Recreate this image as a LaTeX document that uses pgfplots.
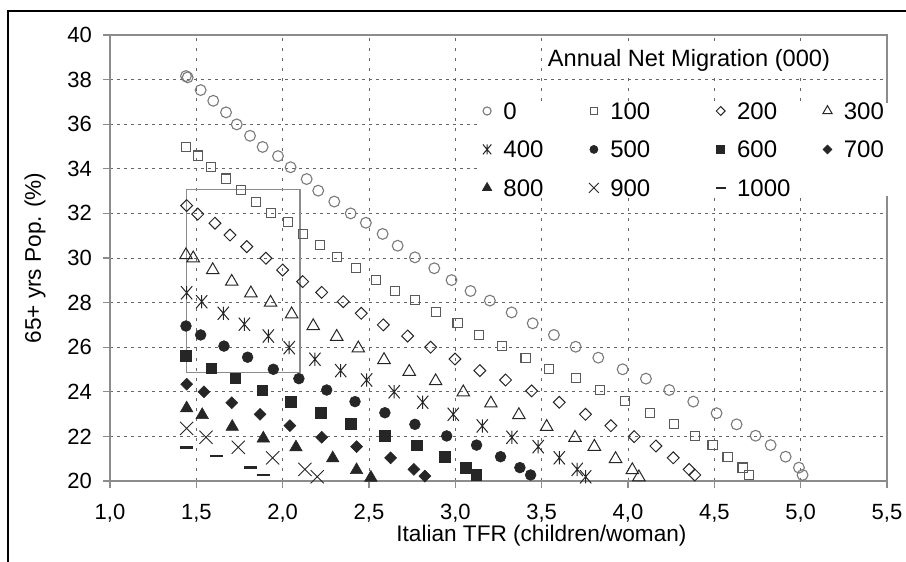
\documentclass[border=0pt]{standalone}
\usepackage{fontspec}
\setmainfont{Liberation Sans}
\usepackage{pgfplots}
\pgfplotsset{compat=1.18}

\pgfdeclareplotmark{xbar}{%
  \pgfpathmoveto{\pgfqpoint{-0.85\pgfplotmarksize}{-\pgfplotmarksize}}%
  \pgfpathlineto{\pgfqpoint{0.85\pgfplotmarksize}{\pgfplotmarksize}}%
  \pgfpathmoveto{\pgfqpoint{-0.85\pgfplotmarksize}{\pgfplotmarksize}}%
  \pgfpathlineto{\pgfqpoint{0.85\pgfplotmarksize}{-\pgfplotmarksize}}%
  \pgfpathmoveto{\pgfqpoint{0pt}{-\pgfplotmarksize}}%
  \pgfpathlineto{\pgfqpoint{0pt}{\pgfplotmarksize}}%
  \pgfusepathqstroke}
\pgfdeclareplotmark{bigx}{%
  \pgfpathmoveto{\pgfqpoint{-\pgfplotmarksize}{-\pgfplotmarksize}}%
  \pgfpathlineto{\pgfqpoint{\pgfplotmarksize}{\pgfplotmarksize}}%
  \pgfpathmoveto{\pgfqpoint{-\pgfplotmarksize}{\pgfplotmarksize}}%
  \pgfpathlineto{\pgfqpoint{\pgfplotmarksize}{-\pgfplotmarksize}}%
  \pgfusepathqstroke}
\pgfdeclareplotmark{hdash}{%
  \pgfpathmoveto{\pgfqpoint{-\pgfplotmarksize}{0pt}}%
  \pgfpathlineto{\pgfqpoint{\pgfplotmarksize}{0pt}}%
  \pgfusepathqstroke}

\definecolor{gridc}{HTML}{666666}
\definecolor{axc}{HTML}{8C8C8C}
\definecolor{opc}{HTML}{7A7A7A}
\definecolor{sqc}{HTML}{5A5A5A}
\definecolor{dkc}{HTML}{262626}
\newcommand{\legtxt}[1]{\makebox[41pt][l]{#1}}
\newcommand{\legtxtb}[1]{\makebox[51pt][l]{#1}}

\begin{document}
\begin{tikzpicture}
\useasboundingbox (-55pt,-40.5pt) rectangle (398pt,240.5pt);
\draw[line width=0.7pt, black] (-51pt,-45pt) -- (-51pt,235pt) -- (402pt,235pt);
\begin{axis}[
  at={(0pt,0pt)}, anchor=south west,
  scale only axis, width=388.5pt, height=223pt,
  xmin=1, xmax=5.5, ymin=20, ymax=40,
  xtick={1,1.5,...,5.5}, ytick={20,22,...,40},
  clip=false,
  grid=major,
  x grid style={gridc, line width=0.45pt, dash pattern=on 1.5pt off 3.5pt},
  y grid style={gridc, line width=0.45pt, dash pattern=on 1.5pt off 2pt},
  axis line style={axc, line width=0.6pt},
  tick style={axc, line width=0.6pt},
  tick align=outside, major tick length=3.5pt,
  tick pos=left,
  /pgf/number format/assume math mode=true,
  xticklabel style={/pgf/number format/fixed, /pgf/number format/fixed zerofill,
    /pgf/number format/precision=1, /pgf/number format/use comma, yshift=-4.5pt},
  tick label style={font=\fontsize{11}{12}\selectfont},
  yticklabel style={xshift=-2pt},
  xlabel={Italian TFR (children/woman)},
  ylabel={65+ yrs Pop. (\%)},
  label style={font=\fontsize{11.3}{13}\selectfont},
  xlabel style={at={(axis description cs:0.5553,-0.1230)}, anchor=center},
  ylabel style={at={(axis description cs:-0.0965,0.5)}, anchor=center},
  legend columns=4,
  legend style={at={(axis cs:3.133,36.99)}, anchor=north west, draw=none, fill=white,
    inner sep=0pt, font=\fontsize{12}{13}\selectfont,
    nodes={inner ysep=0pt, inner xsep=0pt, text height=8.5pt, text depth=0pt},
    /tikz/column sep=0pt,
    row sep=10.7pt},
  legend cell align=left,
  legend image code/.code={\path (0pt,0pt) (16pt,0pt); \draw[#1] plot coordinates {(5.333pt,0pt)};},
  legend image post style={scale=0.75},
]
\addplot[axc, line width=0.6pt, no markers, forget plot] coordinates {(1.444,24.86)(2.1,24.86)(2.1,33.08)(1.444,33.08)(1.444,24.86)};

\addplot[only marks, mark=o, mark size=2.7pt, opc, mark options={line width=0.55pt}] table {
x y
1.44 38.16
1.45 38.10
1.525 37.53
1.598 37.05
1.672 36.53
1.734 35.99
1.811 35.48
1.884 34.98
1.973 34.57
2.046 34.07
2.139 33.54
2.206 33.02
2.299 32.53
2.394 32.00
2.482 31.58
2.579 31.08
2.666 30.55
2.766 30.03
2.878 29.54
2.978 29.01
3.088 28.52
3.200 28.09
3.326 27.56
3.448 27.07
3.571 26.55
3.697 26.02
3.828 25.53
3.969 25.01
4.104 24.59
4.239 24.08
4.378 23.56
4.513 23.04
4.629 22.54
4.739 22.03
4.826 21.61
4.913 21.09
4.990 20.60
5.011 20.27
};
\addlegendentry{\legtxt{0}}

\addplot[only marks, mark=square, mark size=2.3pt, sqc, mark options={line width=0.55pt}] table {
x y
1.440 34.99
1.511 34.59
1.585 34.09
1.672 33.56
1.759 33.04
1.845 32.52
1.932 32.03
2.032 31.60
2.119 31.08
2.216 30.58
2.316 30.06
2.424 29.54
2.540 29.01
2.652 28.53
2.766 28.12
2.888 27.58
3.013 27.07
3.137 26.55
3.272 26.05
3.407 25.53
3.544 25.01
3.697 24.61
3.838 24.09
3.982 23.59
4.129 23.06
4.266 22.56
4.389 22.03
4.490 21.61
4.577 21.09
4.664 20.60
4.700 20.27
};
\addlegendentry{\legtxtb{100}}

\addplot[only marks, mark=square, mark size=2.1pt, dkc, mark options={rotate=45, line width=0.5pt}] table {
x y
1.444 32.35
1.508 31.97
1.608 31.56
1.695 31.03
1.792 30.51
1.903 29.99
2.000 29.46
2.116 28.94
2.226 28.46
2.351 28.04
2.455 27.52
2.583 27.00
2.724 26.50
2.857 26.00
2.998 25.47
3.142 24.95
3.291 24.53
3.442 24.04
3.602 23.53
3.754 22.99
3.901 22.48
4.036 21.99
4.162 21.57
4.262 21.04
4.354 20.52
4.387 20.27
};
\addlegendentry{\legtxt{200}}

\addplot[only marks, mark=triangle, mark size=3.6pt, dkc, mark options={line width=0.5pt}] table {
x y
1.440 30.13
1.482 29.99
1.595 29.46
1.705 28.94
1.816 28.42
1.930 28.00
2.052 27.48
2.177 26.95
2.313 26.47
2.438 25.95
2.587 25.43
2.733 24.90
2.886 24.48
3.046 23.98
3.206 23.48
3.368 22.96
3.529 22.43
3.693 21.94
3.805 21.54
3.928 20.99
4.025 20.49
4.063 20.17
};
\addlegendentry{\legtxt{300}}

\addplot[only marks, mark=xbar, mark size=3.3pt, dkc, mark options={line width=0.5pt}] table {
x y
1.444 28.44
1.531 28.04
1.656 27.52
1.778 27.03
1.917 26.50
2.038 25.98
2.187 25.46
2.336 24.95
2.486 24.53
2.646 24.00
2.811 23.53
2.988 22.99
3.156 22.47
3.328 21.96
3.480 21.54
3.602 21.04
3.706 20.52
3.755 20.19
};
\addlegendentry{\legtxt{400}}

\addplot[only marks, mark=*, mark size=2.7pt, dkc, mark options={line width=0.3pt, fill=dkc}] table {
x y
1.440 26.95
1.525 26.55
1.660 26.05
1.797 25.55
1.946 25.01
2.094 24.59
2.255 24.08
2.419 23.56
2.592 23.06
2.766 22.54
2.950 22.02
3.123 21.61
3.262 21.09
3.374 20.60
3.436 20.27
};
\addlegendentry{\legtxtb{500}}

\addplot[only marks, mark=square*, mark size=2.6pt, dkc, mark options={line width=0.3pt, fill=dkc}] table {
x y
1.440 25.61
1.585 25.05
1.724 24.60
1.882 24.08
2.046 23.56
2.220 23.06
2.394 22.56
2.592 22.03
2.776 21.61
2.940 21.09
3.061 20.60
3.123 20.27
};
\addlegendentry{\legtxt{600}}

\addplot[only marks, mark=square*, mark size=2.1pt, dkc, mark options={rotate=45, line width=0.3pt, fill=dkc}] table {
x y
1.444 24.34
1.544 24.00
1.705 23.51
1.869 22.99
2.042 22.48
2.226 21.96
2.428 21.54
2.625 21.04
2.760 20.52
2.824 20.22
};
\addlegendentry{\legtxt{700}}

\addplot[only marks, mark=triangle*, mark size=3.6pt, dkc, mark options={line width=0.3pt, fill=dkc}] table {
x y
1.444 23.26
1.534 22.96
1.708 22.43
1.888 21.91
2.077 21.51
2.290 21.02
2.428 20.49
2.511 20.15
};
\addlegendentry{\legtxt{800}}

\addplot[only marks, mark=bigx, mark size=3.3pt, dkc, mark options={line width=0.45pt}] table {
x y
1.444 22.36
1.556 21.96
1.743 21.51
1.942 21.04
2.129 20.52
2.200 20.19
};
\addlegendentry{\legtxtb{900}}

\addplot[only marks, mark=hdash, mark size=3.3pt, dkc, mark options={line width=1.3pt}] table {
x y
1.444 21.51
1.618 21.12
1.816 20.60
1.888 20.27
};
\addlegendentry{\legtxt{1000}}

\node[fill=white, inner sep=2pt, font=\fontsize{11.8}{13}\selectfont] at (axis cs:4.353,38.88) {Annual Net Migration (000)};
\end{axis}
\end{tikzpicture}
\end{document}
